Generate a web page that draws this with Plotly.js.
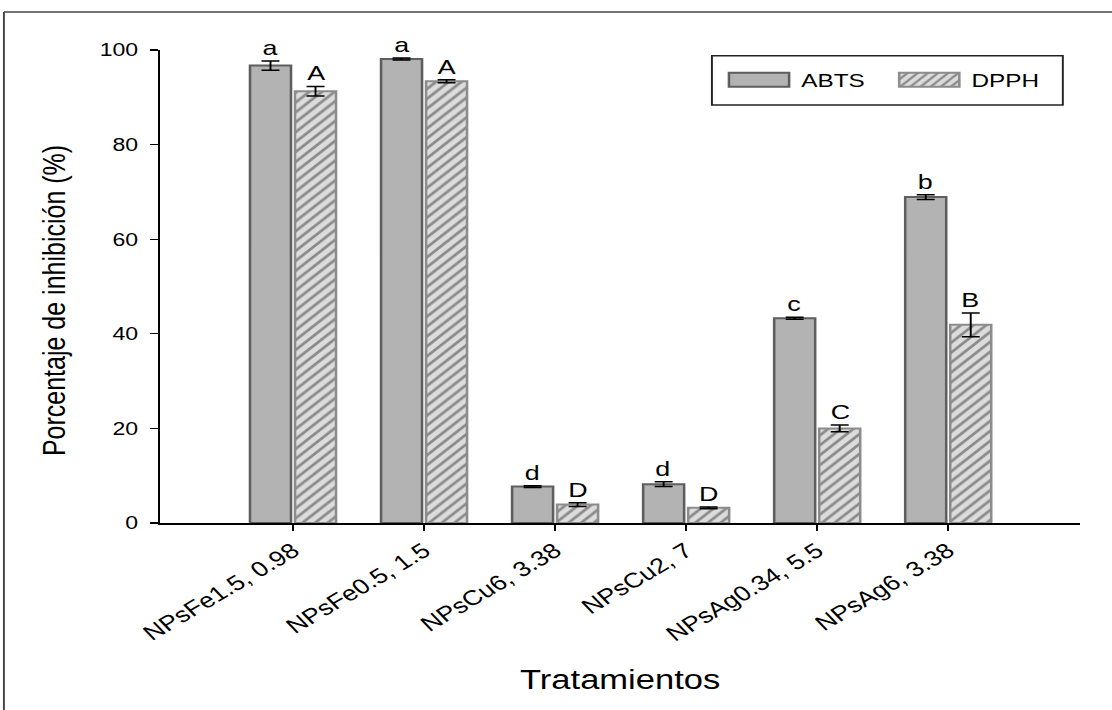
<!DOCTYPE html>
<html>
<head>
<meta charset="utf-8">
<script src="https://cdn.plot.ly/plotly-3.0.1.min.js"></script>
<style>
  html, body { margin: 0; padding: 0; background: #fff; overflow: hidden; }
  #wrap { width: 869px; height: 710px; transform: scaleX(1.28); transform-origin: 0 0; }
</style>
</head>
<body>
<div id="wrap"><div id="chart" style="width:869px;height:710px;"></div></div>
<script>
const categories = ['NPsFe1.5, 0.98', 'NPsFe0.5, 1.5', 'NPsCu6, 3.38', 'NPsCu2, 7', 'NPsAg0.34, 5.5', 'NPsAg6, 3.38'];
const abts = [96.7, 98.1, 7.7, 8.2, 43.3, 68.9];
const abtsErr = [1.0, 0.2, 0.2, 0.5, 0.2, 0.5];
const dpph = [91.3, 93.4, 3.9, 3.2, 20.0, 41.9];
const dpphErr = [1.0, 0.3, 0.4, 0.2, 0.7, 2.5];
const abtsLetters = ['a', 'a', 'd', 'd', 'c', 'b'];
const dpphLetters = ['A', 'A', 'D', 'D', 'C', 'B'];
const yTicks = [0, 20, 40, 60, 80, 100];

const FONT = 'Liberation Sans, Arial, sans-serif';
const bargap = 0.313;
const half = (1 - bargap) / 4;

const traces = [
  {
    type: 'bar', name: 'ABTS', x: categories, y: abts,
    marker: { color: '#b3b3b3', line: { color: '#5e5e5e', width: 2 } },
    error_y: { type: 'data', array: abtsErr, visible: true, color: '#000', thickness: 1.5, width: 7 }
  },
  {
    type: 'bar', name: 'DPPH', x: categories, y: dpph,
    marker: {
      color: '#d9d9d9', line: { color: '#8c8c8c', width: 2 },
      pattern: { shape: '/', bgcolor: '#dcdcdc', fgcolor: '#8a8a8a', size: 7, solidity: 0.35 }
    },
    error_y: { type: 'data', array: dpphErr, visible: true, color: '#000', thickness: 1.5, width: 7 }
  }
];

const annotations = [];
categories.forEach((c, i) => {
  annotations.push({ x: i - half, y: abts[i] + abtsErr[i], text: abtsLetters[i], showarrow: false,
    yanchor: 'bottom', xanchor: 'center', font: { family: FONT, size: 21, color: '#000' } });
  annotations.push({ x: i + half, y: dpph[i] + dpphErr[i], text: dpphLetters[i], showarrow: false,
    yanchor: 'bottom', xanchor: 'center', font: { family: FONT, size: 21, color: '#000' } });
});

const layout = {
  width: 869, height: 710,
  margin: { l: 125, r: 25, t: 50, b: 187 },
  paper_bgcolor: '#fff', plot_bgcolor: '#fff',
  barmode: 'group', bargap: bargap, bargroupgap: 0.089,
  font: { family: FONT, color: '#000' },
  xaxis: {
    type: 'category', range: [-1.015, 6.008], autorange: false,
    showline: true, linecolor: '#000', linewidth: 1.5, showgrid: false, zeroline: false,
    ticks: 'outside', ticklen: 6, tickcolor: '#000', tickwidth: 1.2,
    tickangle: -37, tickfont: { family: FONT, size: 21, color: '#000' },
    title: { text: 'Tratamientos', font: { family: FONT, size: 27, color: '#000' }, standoff: 26 },
    automargin: false
  },
  yaxis: {
    range: [0, 100], autorange: false, tickvals: yTicks,
    showline: true, linecolor: '#000', linewidth: 1.5, showgrid: false, zeroline: false,
    ticks: 'outside', ticklen: 6, tickcolor: '#000', tickwidth: 1.2,
    ticklabelstandoff: 6,
    tickfont: { family: FONT, size: 18, color: '#000' },
    title: { text: 'Porcentaje de inhibición (%)', font: { family: FONT, size: 25, color: '#000' }, standoff: 19 },
    automargin: false
  },
  showlegend: true,
  legend: {
    orientation: 'h', x: 0.605, xanchor: 'left', y: 0.9366, yanchor: 'middle',
    bgcolor: 'rgba(0,0,0,0)', borderwidth: 0, itemwidth: 56, entrywidth: 62,
    font: { family: FONT, size: 19, color: '#000' }
  },
  annotations: annotations,
  shapes: [
    { type: 'rect', xref: 'paper', yref: 'paper', x0: 0.5997, x1: 0.981, y0: 0.8837, y1: 0.988,
      line: { color: '#222', width: 1.5 }, fillcolor: 'rgba(0,0,0,0)' },
    { type: 'line', xref: 'paper', yref: 'paper', x0: -0.1696, x1: -0.1696, y0: -0.42, y1: 1.0803,
      line: { color: '#444', width: 1.5 } },
    { type: 'line', xref: 'paper', yref: 'paper', x0: -0.1696, x1: 1.05, y0: 1.0803, y1: 1.0803,
      line: { color: '#444', width: 1.5 } }
  ]
};

Plotly.newPlot('chart', traces, layout, { staticPlot: true, displayModeBar: false }).then(gd => {
  gd.querySelectorAll('.legend .legendpoints path').forEach(p => {
    p.setAttribute('d', 'M23.5,7H-23.5V-7H23.5Z');
  });
  const yt = gd.querySelector('.ytitle');
  if (yt) {
    const t = yt.getAttribute('transform') || '';
    yt.setAttribute('transform', 'translate(0,14) ' + t);
  }
});
</script>
</body>
</html>
